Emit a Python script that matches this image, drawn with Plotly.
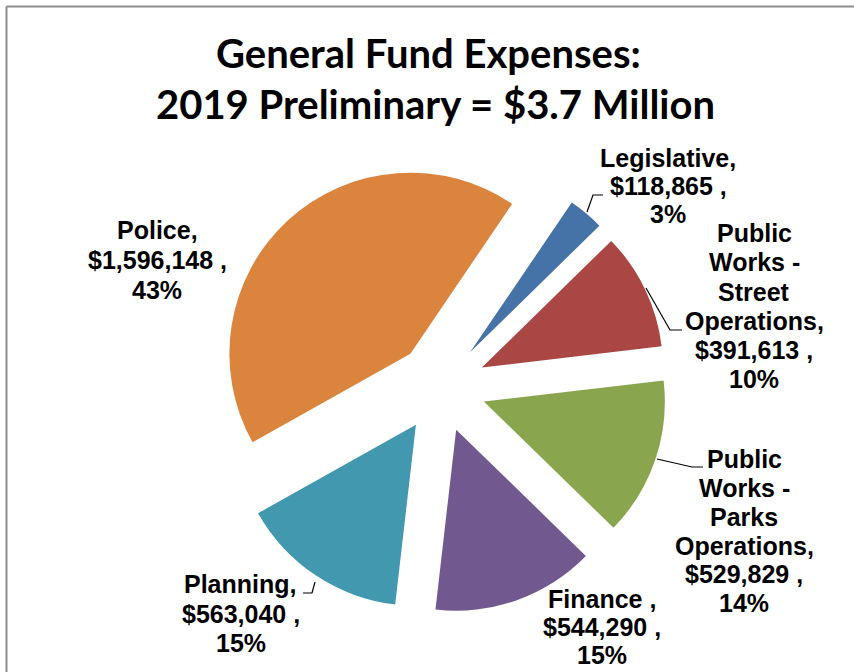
import plotly.graph_objects as go

# ---- data ----
categories = ["Legislative", "Public Works - Street Operations", "Public Works - Parks Operations",
              "Finance", "Planning", "Police"]
values = [118865, 391613, 529829, 544290, 563040, 1596148]
name_lines = [["Legislative,"], ["Public", "Works -", "Street", "Operations,"],
              ["Public", "Works -", "Parks", "Operations,"], ["Finance ,"], ["Planning,"], ["Police,"]]
colors = ["#4572A7", "#AA4643", "#89A54E", "#71588F", "#4198AF", "#DB843D"]
title_lines = ["General Fund Expenses:", "2019 Preliminary = $3.7 Million"]

W, H = 854, 672


def px(x):
    return x / W


def py(y):
    return 1 - y / H


total = sum(values)

fig = go.Figure()
fig.add_trace(go.Pie(
    labels=categories, values=values, sort=False, direction="clockwise",
    rotation=34.2, pull=[0.25] * len(values), textinfo="none",
    marker=dict(colors=colors, line=dict(width=0)),
    domain=dict(x=[px(441 - 226.25), px(441 + 226.25)], y=[py(387 + 226.25), py(387 - 226.25)]),
    showlegend=False,
))

# label block layout: (center x, first baseline y, line spacing)
label_pos = [(668, 167, 28), (754, 242, 29.2), (744, 468, 28.8), (602, 608, 28), (241, 593, 29.5), (157, 239, 30)]
annotations = []
fs = 25
for names, v, (cx, by, sp) in zip(name_lines, values, label_pos):
    lines = names + [f"${v:,} ,", f"{round(v / total * 100)}%"]
    for i, t in enumerate(lines):
        annotations.append(dict(
            text=f"<b>{t}</b>", x=px(cx), y=py(by + i * sp - 0.35 * fs), xref="paper", yref="paper",
            xanchor="center", yanchor="middle", showarrow=False,
            font=dict(family="Liberation Sans", size=fs, color="#000000"),
        ))

tfs = 40
title_cx = [428, 435]
for i, t in enumerate(title_lines):
    annotations.append(dict(
        text=f"<b>{t}</b>", x=px(title_cx[i]), y=py(68 + i * 51 - 0.387 * tfs), xref="paper", yref="paper",
        xanchor="center", yanchor="middle", showarrow=False,
        font=dict(family="Lato", size=tfs, color="#000000"),
    ))

# leader lines (pixel polylines)
leaders = [
    [(587, 212), (593, 195), (603, 195)],
    [(646, 288), (670, 330), (682, 330)],
    [(657, 459), (692, 467), (703, 467)],
    [(315, 582), (312, 593), (303, 593)],
]
shapes = []
for pts in leaders:
    path = "M " + " L ".join(f"{px(x)},{py(y)}" for x, y in pts)
    shapes.append(dict(type="path", path=path, xref="paper", yref="paper",
                       line=dict(color="#000000", width=1.2)))
# chart border (top and left visible)
shapes.append(dict(type="line", x0=px(6.5), x1=px(860), y0=py(6.5), y1=py(6.5), xref="paper", yref="paper",
                   line=dict(color="#8C8C8C", width=2)))
shapes.append(dict(type="line", x0=px(6.5), x1=px(6.5), y0=py(6.5), y1=py(680), xref="paper", yref="paper",
                   line=dict(color="#8C8C8C", width=2)))

fig.update_layout(
    width=W, height=H, margin=dict(l=0, r=0, t=0, b=0),
    paper_bgcolor="white", plot_bgcolor="white",
    annotations=annotations, shapes=shapes,
)
fig.write_html("out.html", config={"displayModeBar": False},
               post_script="document.body.style.margin='0';document.body.style.overflow='hidden';")
